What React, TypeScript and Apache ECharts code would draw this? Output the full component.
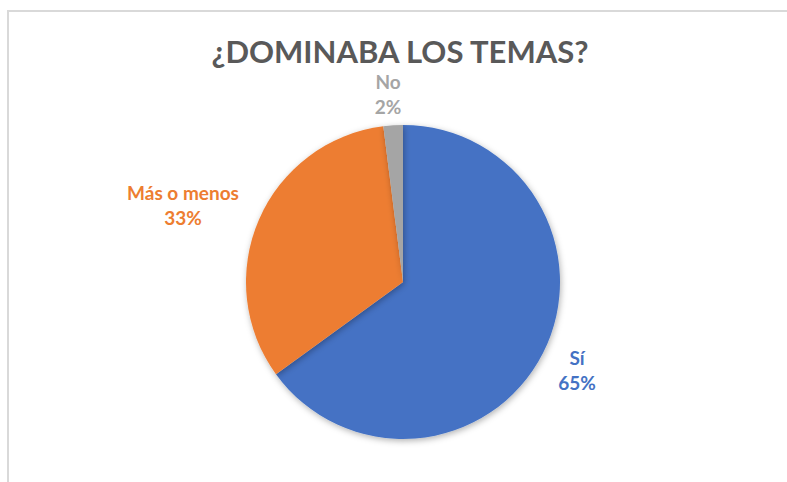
import React, { useEffect, useRef } from "react";
import * as echarts from "echarts";

const TITLE = "¿DOMINABA LOS TEMAS?";
const categories = ["Sí", "Más o menos", "No"];
const values = [65, 33, 2];
const colors = ["#4472C4", "#ED7D31", "#A5A5A5"];
const percentLabels = ["65%", "33%", "2%"];

const CX = 403;
const CY = 282;
const R = 157;
// label centre offsets from pie centre (Excel "best fit" placement)
const labelOffsets = [
  [174, 88],
  [-220, -77],
  [-15, -188],
];

export default function App() {
  const ref = useRef<HTMLDivElement>(null);
  useEffect(() => {
    if (!ref.current) return;
    const chart = echarts.init(ref.current, null, { renderer: "svg" });
    const font = "Lato, 'Open Sans', sans-serif";
    chart.setOption({
      animation: false,
      backgroundColor: "#ffffff",
      graphic: [
        {
          type: "rect",
          shape: { x: 8, y: 11, width: 900, height: 600 },
          style: { fill: "none", stroke: "#d9d9d9", lineWidth: 2 },
          silent: true,
        },
        {
          type: "text",
          x: 400,
          y: 51,
          silent: true,
          style: {
            text: TITLE,
            fontFamily: font,
            fontWeight: "bold",
            fontSize: 31,
            fill: "#595959",
            align: "center",
            verticalAlign: "middle",
          },
        },
      ],
      series: [
        {
          type: "pie",
          center: [CX, CY],
          radius: R,
          startAngle: 90,
          clockwise: true,
          data: categories.map((c, i) => ({
            name: c,
            value: values[i],
            itemStyle: { color: colors[i] },
            label: { color: colors[i] },
          })),
          itemStyle: {
            borderWidth: 0,
            shadowBlur: 6,
            shadowColor: "rgba(0,0,0,0.3)",
            shadowOffsetX: 1,
            shadowOffsetY: 2,
          },
          label: {
            show: true,
            position: "outside",
            formatter: (p: any) => `${p.name}\n${percentLabels[p.dataIndex]}`,
            fontFamily: font,
            fontWeight: "bold",
            fontSize: 19,
            lineHeight: 25,
            align: "center",
          },
          labelLine: { show: false },
          labelLayout: (p: any) => {
            const o = labelOffsets[p.dataIndex];
            return {
              x: CX + o[0],
              y: CY + o[1],
              align: "center",
              verticalAlign: "middle",
            };
          },
          emphasis: { disabled: true },
        },
      ],
    });
    return () => chart.dispose();
  }, []);
  return (
    <div
      ref={ref}
      style={{ position: "fixed", left: 0, top: 0, width: 787, height: 482 }}
    />
  );
}
